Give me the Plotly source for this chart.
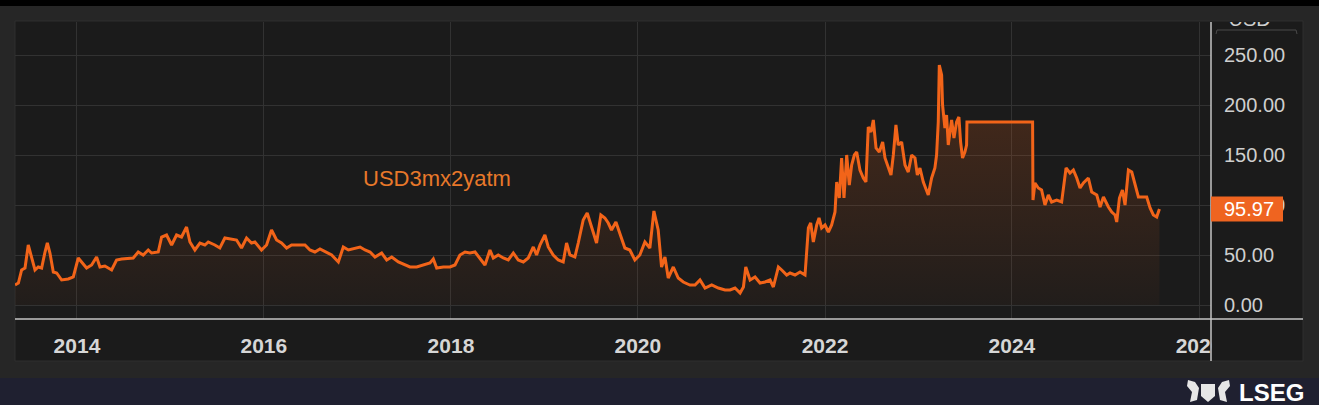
import numpy as np
import pandas as pd
import plotly.graph_objects as go

# ---------------- data (decimal years, USD) ----------------
years_2013_2017 = [2013.337, 2013.373, 2013.408, 2013.444, 2013.479, 2013.515, 2013.551, 2013.586, 2013.622,
                   2013.658, 2013.683, 2013.711, 2013.747, 2013.783, 2013.836, 2013.907, 2013.961, 2014.014,
                   2014.050, 2014.103, 2014.157, 2014.210, 2014.246, 2014.299, 2014.371, 2014.424, 2014.478,
                   2014.549, 2014.602, 2014.656, 2014.709, 2014.763, 2014.799, 2014.870, 2014.906, 2014.959,
                   2015.013, 2015.066, 2015.119, 2015.173, 2015.209, 2015.262, 2015.316, 2015.369, 2015.405,
                   2015.476, 2015.529, 2015.583, 2015.654, 2015.708, 2015.761, 2015.815, 2015.868, 2015.904,
                   2015.975, 2016.029, 2016.082, 2016.136, 2016.189, 2016.243, 2016.296, 2016.367, 2016.439,
                   2016.492, 2016.545, 2016.599, 2016.670, 2016.724, 2016.795, 2016.848, 2016.902, 2016.955,
                   2017.027, 2017.080, 2017.134, 2017.187, 2017.258, 2017.312, 2017.366, 2017.437]
values_2013_2017 = [20, 22, 35, 37, 60, 48, 35, 38, 37,
                    53, 62, 52, 33, 32, 25, 26, 28, 47,
                    43, 37, 40, 48, 38, 39, 35, 45, 46,
                    47, 47, 53, 50, 55, 52, 53, 68, 70,
                    60, 70, 68, 78, 63, 55, 62, 60, 63,
                    60, 57, 67, 66, 65, 57, 67, 62, 63,
                    55, 60, 75, 65, 62, 57, 60, 60, 60,
                    55, 53, 56, 53, 50, 43, 58, 55, 56,
                    58, 55, 53, 48, 52, 45, 48, 43]

years_2017_2021 = [2017.508, 2017.561, 2017.633, 2017.704, 2017.775, 2017.811, 2017.847, 2017.918, 2017.989,
                   2018.043, 2018.096, 2018.150, 2018.203, 2018.257, 2018.310, 2018.364, 2018.417, 2018.453,
                   2018.506, 2018.560, 2018.613, 2018.667, 2018.720, 2018.774, 2018.827, 2018.881, 2018.916,
                   2018.952, 2019.005, 2019.041, 2019.094, 2019.148, 2019.201, 2019.237, 2019.273, 2019.326,
                   2019.362, 2019.415, 2019.458, 2019.504, 2019.558, 2019.604, 2019.647, 2019.683, 2019.718,
                   2019.765, 2019.807, 2019.861, 2019.914, 2019.968, 2020.021, 2020.075, 2020.128, 2020.171,
                   2020.217, 2020.253, 2020.289, 2020.324, 2020.378, 2020.431, 2020.485, 2020.556, 2020.610,
                   2020.663, 2020.717, 2020.788, 2020.859, 2020.930, 2020.984, 2021.037, 2021.091, 2021.127,
                   2021.152, 2021.198, 2021.251, 2021.305, 2021.358, 2021.412, 2021.447, 2021.501, 2021.537,
                   2021.590]
values_2017_2021 = [40, 38, 38, 40, 42, 46, 37, 38, 38,
                    40, 50, 53, 52, 53, 47, 40, 55, 47,
                    50, 47, 45, 52, 45, 43, 47, 58, 50,
                    60, 70, 58, 50, 45, 43, 62, 50, 48,
                    62, 85, 92, 78, 62, 90, 87, 82, 75,
                    83, 72, 57, 55, 45, 50, 63, 57, 94,
                    75, 38, 48, 27, 38, 27, 23, 20, 20,
                    25, 17, 20, 17, 15, 15, 17, 12, 18,
                    38, 25, 28, 22, 23, 25, 18, 38, 35,
                    30]

years_2021_2025 = [2021.626, 2021.679, 2021.733, 2021.786, 2021.822, 2021.847, 2021.875, 2021.911, 2021.936,
                   2021.964, 2022.000, 2022.036, 2022.071, 2022.107, 2022.125, 2022.153, 2022.178, 2022.203,
                   2022.232, 2022.260, 2022.285, 2022.314, 2022.339, 2022.374, 2022.410, 2022.438, 2022.463,
                   2022.492, 2022.517, 2022.546, 2022.581, 2022.617, 2022.642, 2022.677, 2022.706, 2022.731,
                   2022.759, 2022.784, 2022.820, 2022.856, 2022.891, 2022.927, 2022.963, 2022.988, 2023.016,
                   2023.052, 2023.087, 2023.105, 2023.141, 2023.176, 2023.194, 2023.212, 2023.223, 2023.248,
                   2023.258, 2023.283, 2023.301, 2023.319, 2023.355, 2023.380, 2023.408, 2023.433, 2023.451,
                   2023.472, 2023.497, 2023.515, 2023.519, 2024.221, 2024.225, 2024.246, 2024.282, 2024.317,
                   2024.353, 2024.389, 2024.424, 2024.478, 2024.531, 2024.578, 2024.620, 2024.656, 2024.692,
                   2024.727, 2024.763, 2024.816, 2024.852, 2024.906, 2024.941, 2024.977, 2025.030, 2025.066,
                   2025.101, 2025.119, 2025.148, 2025.180, 2025.208, 2025.244, 2025.280, 2025.315, 2025.351,
                   2025.440, 2025.476, 2025.511, 2025.547, 2025.576]
values_2021_2025 = [32, 30, 33, 30, 77, 82, 63, 80, 87,
                    77, 80, 73, 80, 93, 123, 107, 147, 107,
                    150, 120, 140, 150, 153, 135, 127, 123, 178,
                    173, 185, 157, 153, 163, 147, 137, 130, 150,
                    180, 160, 163, 140, 133, 150, 147, 130, 137,
                    123, 115, 110, 127, 137, 150, 183, 240, 230,
                    200, 177, 190, 160, 185, 167, 183, 188, 163,
                    147, 153, 160, 183, 183, 105, 122, 117, 115,
                    100, 110, 103, 105, 103, 137, 132, 135, 127,
                    117, 122, 127, 113, 110, 98, 108, 98, 93,
                    90, 83, 107, 115, 100, 135, 133, 120, 108,
                    108, 97, 90, 88, 95.97]

series_name = "USD3mx2yatm"
currency = "USD"
y_ticks = [0, 50, 100, 150, 200, 250]

# ---------------- helpers ----------------
W, H = 1319, 405


def to_date(y):
    yi = int(np.floor(y))
    start = pd.Timestamp(year=yi, month=1, day=1)
    end = pd.Timestamp(year=yi + 1, month=1, day=1)
    return start + (end - start) * (y - yi)


def px(x):
    return x / W


def py(y):
    return 1 - y / H


years = years_2013_2017 + years_2017_2021 + years_2021_2025
values = values_2013_2017 + values_2017_2021 + values_2021_2025
dates = [to_date(y) for y in years]

LINE = "#f26419"
GRID = "#323232"
AXIS = "#c4c4c4"
TICKC = "#cfcfcf"
INNER = "#1b1b1b"

fig = go.Figure()
fig.add_trace(go.Scatter(
    x=dates, y=values, mode="lines",
    line=dict(color=LINE, width=3),
    fill="tozeroy",
    fillgradient=dict(type="vertical",
                      colorscale=[[0, "rgba(242,100,25,0.03)"], [1, "rgba(242,100,25,0.22)"]]),
    hoverinfo="skip", showlegend=False,
))

# clipped currency label in the price-scale column
fig.add_trace(go.Scatter(
    x=[0.42], y=[1.004], mode="text", text=[currency],
    textfont=dict(family="Liberation Sans", size=20, color=TICKC),
    textposition="middle center", cliponaxis=True,
    xaxis="x2", yaxis="y2", hoverinfo="skip", showlegend=False,
))

x_start = to_date(2013.337)
x_end = to_date(2026.128)

fig.update_layout(
    width=W, height=H, autosize=False,
    margin=dict(l=0, r=0, t=0, b=0),
    paper_bgcolor="#262626",
    plot_bgcolor="rgba(0,0,0,0)",
    hovermode=False,
    xaxis=dict(
        domain=[px(15), px(1211)], anchor="y",
        type="date", range=[x_start, x_end],
        tick0="2014-01-01", dtick="M24", tickformat="%Y",
        showgrid=True, gridcolor=GRID, gridwidth=1,
        showline=False, zeroline=False, ticks="",
        tickfont=dict(family="Liberation Sans", size=21, color="#d6d6d6", weight="bold"),
        ticklabelstandoff=12, automargin=False,
    ),
    yaxis=dict(
        domain=[py(319), py(22)], anchor="x",
        range=[-14, 283], side="right",
        tickvals=y_ticks, tickformat=".2f",
        showgrid=True, gridcolor=GRID, gridwidth=1,
        showline=False, zeroline=False, ticks="",
        tickfont=dict(family="Liberation Sans", size=20, color=TICKC),
        ticklabelstandoff=12, automargin=False,
    ),
    xaxis2=dict(domain=[px(1211), px(1303)], anchor="y2", range=[0, 1], visible=False, fixedrange=True),
    yaxis2=dict(domain=[py(361), py(22)], anchor="x2", range=[0, 1], visible=False, fixedrange=True),
)

shapes = []
# background panels
shapes.append(dict(type="rect", xref="paper", yref="paper", x0=0, x1=1, y0=py(6), y1=1,
                   fillcolor="#000000", line=dict(width=0), layer="below"))
shapes.append(dict(type="rect", xref="paper", yref="paper", x0=0, x1=1, y0=0, y1=py(378),
                   fillcolor="#1f2030", line=dict(width=0), layer="below"))
shapes.append(dict(type="rect", xref="paper", yref="paper", x0=px(15), x1=px(1303), y0=py(361), y1=py(21),
                   fillcolor=INNER, line=dict(color="#2e2e2e", width=1), layer="below"))
# cover for the clipped last year label
shapes.append(dict(type="rect", xref="paper", yref="paper", x0=px(1211.5), x1=px(1302), y0=py(360), y1=py(320),
                   fillcolor=INNER, line=dict(width=0), layer="above"))
# axis lines
shapes.append(dict(type="line", xref="paper", yref="paper", x0=px(15), x1=px(1303), y0=py(319), y1=py(319),
                   line=dict(color=AXIS, width=1.5), layer="above"))
shapes.append(dict(type="line", xref="paper", yref="paper", x0=px(1211), x1=px(1211), y0=py(22), y1=py(361),
                   line=dict(color=AXIS, width=1.5), layer="above"))
# currency bracket
shapes.append(dict(type="path", xref="paper", yref="paper",
                   path=f"M {px(1216)},{py(34)} L {px(1217)},{py(30)} L {px(1296)},{py(30)} L {px(1297)},{py(34)}",
                   line=dict(color="#4a4a4a", width=1), layer="above"))
# last price box
last = values[-1]
shapes.append(dict(type="rect", xref="paper", yref="y", x0=px(1211), x1=px(1283),
                   y0=last - 12.5, y1=last + 12.5,
                   fillcolor="#ef6420", line=dict(width=0), layer="above"))
# crude crest for the logo
shapes.append(dict(type="path", xref="paper", yref="paper",
                   path=(f"M {px(1201)},{py(384)} L {px(1215)},{py(384)} L {px(1215)},{py(396)} "
                         f"L {px(1208)},{py(402)} L {px(1201)},{py(396)} Z"),
                   fillcolor="#e6e6e6", line=dict(width=0), layer="above"))
shapes.append(dict(type="path", xref="paper", yref="paper",
                   path=(f"M {px(1188)},{py(380)} L {px(1195)},{py(382)} L {px(1199)},{py(388)} "
                         f"L {px(1197)},{py(400)} L {px(1190)},{py(402)} L {px(1192)},{py(392)} "
                         f"L {px(1187)},{py(386)} Z"),
                   fillcolor="#e6e6e6", line=dict(width=0), layer="above"))
shapes.append(dict(type="path", xref="paper", yref="paper",
                   path=(f"M {px(1229)},{py(380)} L {px(1222)},{py(382)} L {px(1218)},{py(388)} "
                         f"L {px(1220)},{py(400)} L {px(1227)},{py(402)} L {px(1225)},{py(392)} "
                         f"L {px(1230)},{py(386)} Z"),
                   fillcolor="#e6e6e6", line=dict(width=0), layer="above"))
fig.update_layout(shapes=shapes)

annotations = [
    dict(xref="paper", yref="paper", x=px(437), y=py(178), text=series_name, showarrow=False,
         font=dict(family="Liberation Sans", size=22, color="#e8782a"), xanchor="center", yanchor="middle"),
    dict(xref="paper", yref="y", x=px(1222), y=last, text=f"{last:.2f}", showarrow=False,
         font=dict(family="Liberation Sans", size=20, color="#ffffff"), xanchor="left", yanchor="middle"),
    dict(xref="paper", yref="paper", x=px(1271), y=py(392), text="<b>LSEG</b>", showarrow=False,
         font=dict(family="Liberation Sans", size=24, color="#ffffff"), xanchor="center", yanchor="middle"),
]
fig.update_layout(annotations=annotations)

fig.write_html(
    "out.html",
    config={"displayModeBar": False},
    post_script="document.body.style.margin='0';document.body.style.padding='0';"
                "document.body.style.overflow='hidden';",
)
